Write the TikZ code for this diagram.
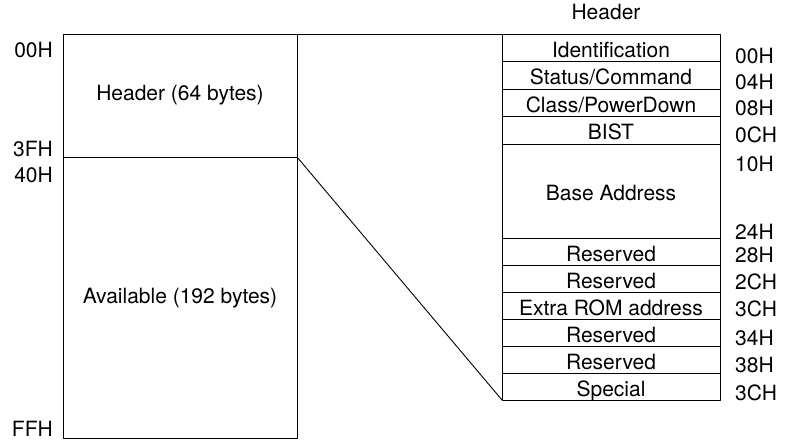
\documentclass[tikz,border=0pt]{standalone}
\usepackage{fontspec}
\setmainfont{TeX Gyre Heros}
\usetikzlibrary{positioning}
\tikzset{
  every picture/.style={line join=round, line cap=round},
  memblock/.style={draw, line width=0.9pt, minimum width=234pt, inner sep=0pt, outer sep=0pt},
  field/.style={draw, line width=0.9pt, minimum width=218pt, minimum height=27.5pt,
    text height=19pt, text depth=0pt, inner sep=0pt, outer sep=0pt},
  addr/.style={inner sep=0pt, anchor=base west},
  offs/.style={inner sep=0pt, anchor=base east},
  link/.style={line width=0.9pt},
}

\begin{document}
\begin{tikzpicture}[x=1pt, y=-1pt, font=\fontsize{21}{25}\selectfont]
\useasboundingbox (0,0) rectangle (790,440);
% configuration space
\node[memblock, minimum height=123pt, anchor=north west] (hdr) at (63,34) {Header (64 bytes)};
\node[memblock, minimum height=281.5pt, below=0pt of hdr] (avail) {Available (192 bytes)};
\node[offs] (o00) at ([shift={(-10,23)}]hdr.north west) {00H};
\node[offs] (o3f) at ([shift={(-10,-1)}]hdr.south west) {3FH};
\node[offs] (o40) at ([shift={(-10,25)}]hdr.south west) {40H};
\node[offs] (off) at ([shift={(-10,-2)}]avail.south west) {FFH};
% header fields
\node[field, anchor=north west] (id) at (502,34) {Identification};
\node[field, below=0pt of id] (stat) {Status/Command};
\node[field, below=0pt of stat] (class) {Class/PowerDown};
\node[field, below=0pt of class] (bist) {BIST};
\node[field, minimum height=94pt, below=0pt of bist] (base) {Base Address};
\node[field, minimum height=27pt, below=0pt of base] (resa) {Reserved};
\node[field, minimum height=27pt, below=0pt of resa] (resb) {Reserved};
\node[field, minimum height=27pt, below=0pt of resb] (rom) {Extra ROM address};
\node[field, minimum height=27pt, below=0pt of rom] (resc) {Reserved};
\node[field, minimum height=27pt, below=0pt of resc] (resd) {Reserved};
\node[field, minimum height=27pt, below=0pt of resd] (spec) {Special};
\node[inner sep=0pt, above=14pt of id, xshift=-5pt] (title) {Header};
% field offsets
\node[addr] (a00) at ([shift={(15,2)}]id.south east) {00H};
\node[addr] (a04) at ([shift={(15,0)}]stat.south east) {04H};
\node[addr] (a08) at ([shift={(15,-1)}]class.south east) {08H};
\node[addr] (a0c) at ([shift={(15,-2)}]bist.south east) {0CH};
\node[addr] (a10) at ([shift={(15,27)}]base.north east) {10H};
\node[addr] (a24) at ([shift={(15,1)}]base.south east) {24H};
\node[addr] (a28) at ([shift={(15,-3)}]resa.south east) {28H};
\node[addr] (a2c) at ([shift={(15,-3)}]resb.south east) {2CH};
\node[addr] (a3c) at ([shift={(15,-3)}]rom.south east) {3CH};
\node[addr] (a34) at ([shift={(15,-1)}]resc.south east) {34H};
\node[addr] (a38) at ([shift={(15,-1)}]resd.south east) {38H};
\node[addr] (a3e) at ([shift={(15,0)}]spec.south east) {3CH};
% zoom lines
\draw[link] (hdr.north east) -- (id.north west);
\draw[link] (hdr.south east) -- (spec.south west);
\end{tikzpicture}
\end{document}
